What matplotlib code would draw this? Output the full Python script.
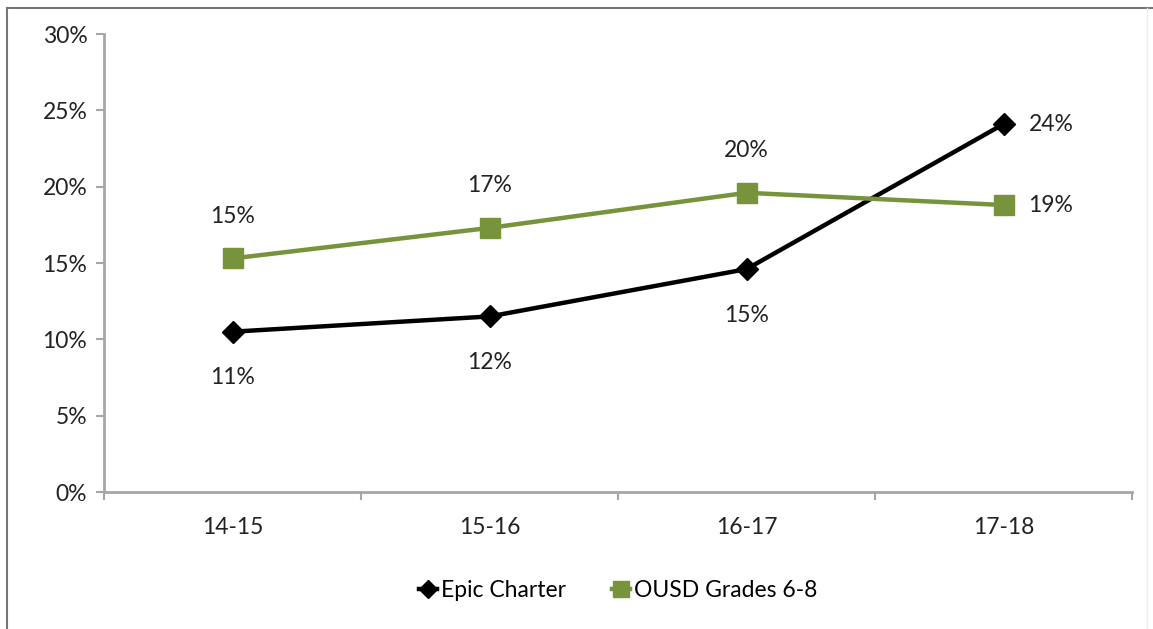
import numpy as np
import matplotlib
matplotlib.use('Agg')
import matplotlib.pyplot as plt
from matplotlib.lines import Line2D

# data
years = ['14-15', '15-16', '16-17', '17-18']
epic = [10.5, 11.5, 14.6, 24.1]
ousd = [15.3, 17.3, 19.6, 18.8]
epic_labels = ['11%', '12%', '15%', '24%']
ousd_labels = ['15%', '17%', '20%', '19%']

GREEN = '#77933C'
GRAY = '#A6A6A6'
TXT = '#222222'
FS = 16.5

plt.rcParams['font.family'] = ['Lato', 'DejaVu Sans']

fig = plt.figure(figsize=(11.53, 6.29), dpi=100)
ax = fig.add_axes([0.0902, 0.2178, 0.8916, 0.7281])

x = np.arange(len(years))
ax.plot(x, epic, '-D', color='black', lw=3.2, ms=11, label='Epic Charter')
ax.plot(x, ousd, '-s', color=GREEN, lw=3.2, ms=14, label='OUSD Grades 6-8')

# data labels: last point to the right, others below/above
for i, (v, s) in enumerate(zip(epic, epic_labels)):
    if i == len(epic) - 1:
        ax.annotate(s, (i, v), xytext=(25, 0), textcoords='offset pixels',
                    ha='left', va='center', fontsize=FS, color=TXT)
    else:
        ax.annotate(s, (i, v), xytext=(0, -46), textcoords='offset pixels',
                    ha='center', va='center', fontsize=FS, color=TXT)
for i, (v, s) in enumerate(zip(ousd, ousd_labels)):
    if i == len(ousd) - 1:
        ax.annotate(s, (i, v), xytext=(25, 0), textcoords='offset pixels',
                    ha='left', va='center', fontsize=FS, color=TXT)
    else:
        ax.annotate(s, (i, v), xytext=(0, 42), textcoords='offset pixels',
                    ha='center', va='center', fontsize=FS, color=TXT)

ax.set_xlim(-0.5, len(years) - 0.5)
ax.set_ylim(0, 30)
ax.set_yticks(np.arange(0, 31, 5))
ax.set_yticklabels([f'{v}%' for v in range(0, 31, 5)])
ax.set_xticks(x)
ax.set_xticklabels(years)
ax.set_xticks(np.arange(-0.5, len(years), 1), minor=True)
ax.tick_params(axis='x', which='major', length=0, pad=18, labelsize=FS, labelcolor=TXT)
ax.tick_params(axis='x', which='minor', length=6, color=GRAY, width=1.5)
ax.tick_params(axis='y', length=6, color=GRAY, width=1.5, pad=6, labelsize=FS, labelcolor=TXT)

for side in ['top', 'right']:
    ax.spines[side].set_visible(False)
for side in ['left', 'bottom']:
    ax.spines[side].set_color(GRAY)
    ax.spines[side].set_linewidth(2)

ax.legend(loc='center', bbox_to_anchor=(0.5, -0.215), ncol=2, frameon=False,
          fontsize=FS, handlelength=0.8, handletextpad=0.15, columnspacing=2.0,
          markerscale=0.85)

# frame around the picture (left/top dark, right faint)
fig.add_artist(Line2D([7 / 1153, 7 / 1153], [0, 1 - 8 / 629], transform=fig.transFigure,
                      color='#777777', lw=1.5))
fig.add_artist(Line2D([7 / 1153, 1], [1 - 8 / 629, 1 - 8 / 629], transform=fig.transFigure,
                      color='#777777', lw=1.5))
fig.add_artist(Line2D([1147 / 1153, 1147 / 1153], [0, 1 - 8 / 629], transform=fig.transFigure,
                      color='#EEEEEE', lw=1))

fig.savefig('out.png', dpi=100)
